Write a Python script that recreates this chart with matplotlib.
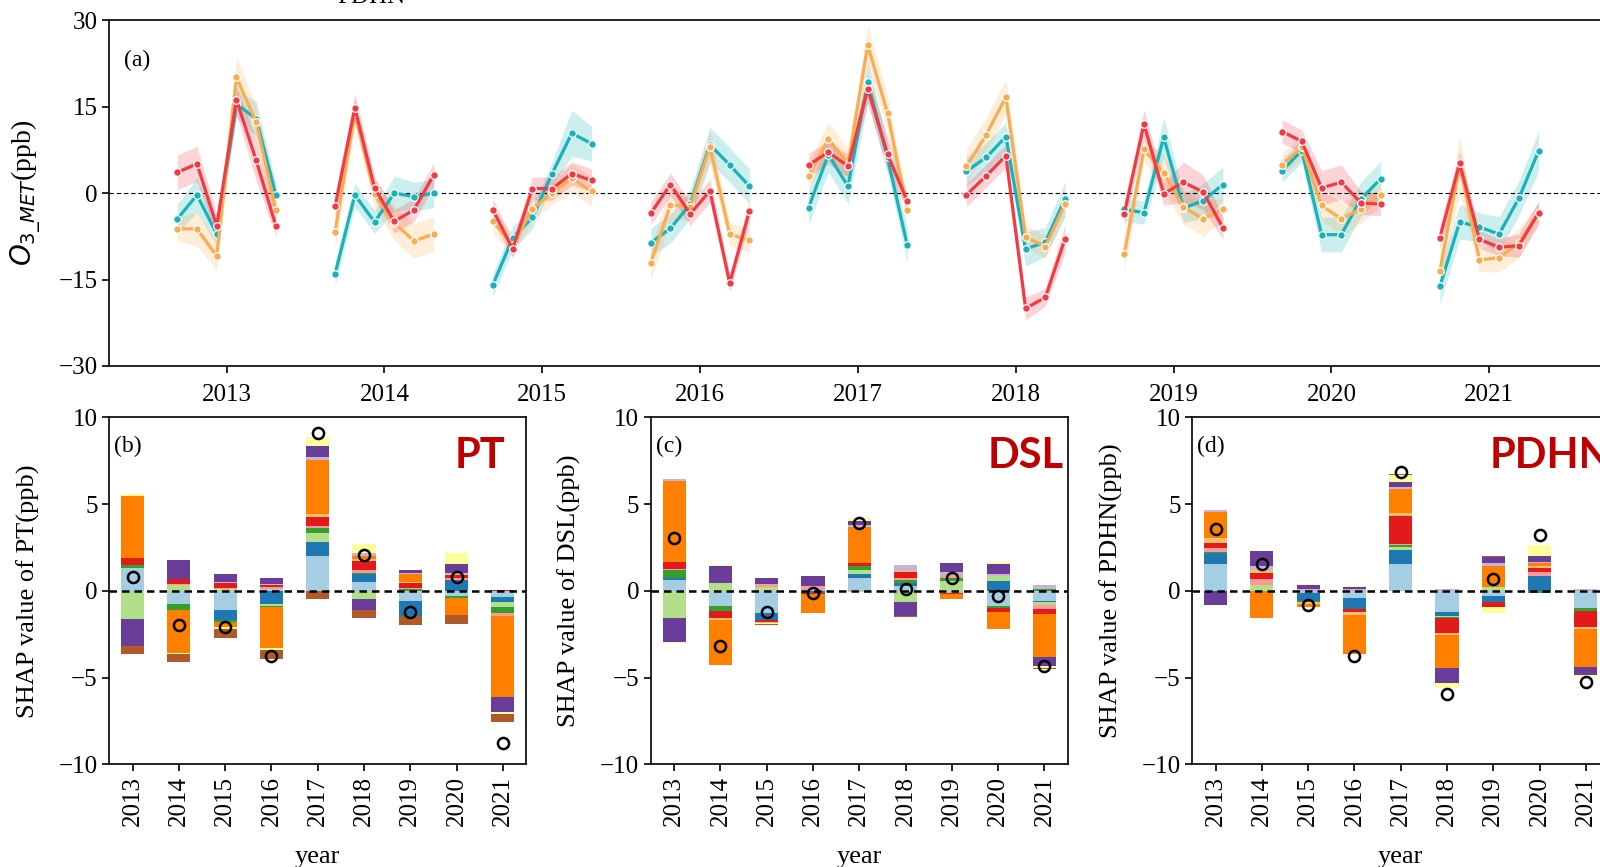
import matplotlib
matplotlib.use('Agg')
import matplotlib.pyplot as plt

plt.rcParams['font.family'] = ['Liberation Serif', 'DejaVu Sans']
plt.rcParams['mathtext.fontset'] = 'dejavusans'

years = ['2013', '2014', '2015', '2016', '2017', '2018', '2019', '2020', '2021']

# ---------------- panel (a): six monthly values per year ----------------
red_vals = [3.6, 5.1, -5.7, 16.2, 5.7, -5.7,
            -2.3, 14.8, 0.9, -4.9, -2.9, 3.2,
            -2.9, -9.7, 0.8, 0.8, 3.4, 2.2,
            -3.5, 1.5, -3.6, 0.4, -15.6, -3.1,
            4.9, 7.1, 4.7, 18.1, 6.8, -1.4,
            -0.3, 3.0, 6.5, -20.0, -18.1, -7.9,
            -3.6, 12.0, -0.1, 1.9, 0.2, -6.0,
            10.7, 9.0, 0.9, 1.9, -1.7, -1.9,
            -7.7, 5.2, -8.0, -9.4, -9.1, -3.4]
orange_vals = [-6.2, -6.2, -10.9, 20.1, 12.3, -3.0,
               -6.7, 14.0, -0.1, -5.2, -8.3, -7.1,
               -4.9, -9.0, -2.7, 0.0, 2.6, 0.3,
               -12.1, -2.0, -2.4, 8.0, -7.1, -8.2,
               3.0, 9.4, 5.1, 25.7, 13.9, -3.0,
               4.7, 10.1, 16.7, -7.6, -9.3, -1.9,
               -10.5, 7.6, 3.5, -2.4, -4.5, -2.8,
               4.9, 8.0, -2.1, -4.5, -2.7, -0.3,
               -13.5, 5.0, -11.6, -11.2, -8.7, -3.6]
teal_vals = [-4.5, -0.3, -7.1, 15.5, 12.9, -0.3,
             -14.0, -0.3, -5.0, 0.0, -0.6, 0.0,
             -15.9, -7.8, -4.2, 3.4, 10.4, 8.6,
             -8.6, -6.1, -1.9, 8.4, 4.9, 1.2,
             -2.5, 6.7, 1.2, 19.3, 6.2, -9.0,
             3.8, 6.2, 9.8, -9.7, -8.5, -1.0,
             -2.8, -3.4, 9.7, -2.6, -1.3, 1.5,
             3.9, 7.4, -7.2, -7.2, -1.0, 2.5,
             -16.2, -5.0, -5.9, -7.1, -0.9, 7.3]
# half-widths of the shaded uncertainty bands
red_err = [3, 3, 2, 2.5, 3.5, 2,
           2, 2.5, 2, 2, 2, 2,
           2, 1.5, 2, 2, 2, 2,
           2, 2, 2, 2, 1.5, 2,
           2, 2, 2, 2.5, 3, 1.5,
           2, 2, 2, 2, 1.5, 2.5,
           2, 2.5, 2, 3.5, 3, 2,
           2, 2, 3, 3, 2, 2,
           2, 2, 1.5, 1.5, 2, 2]
orange_err = [2, 3, 2.5, 3.5, 3, 3,
              3, 2.5, 2.5, 3, 3, 3,
              2, 2, 2, 2, 2.5, 2.5,
              3, 3, 2, 3, 2, 2,
              2, 3, 2.5, 3.5, 3, 2,
              3, 3, 3, 2, 2, 2,
              3, 2, 3, 3, 3, 2,
              2, 2, 2.5, 3, 2.5, 2,
              3, 5, 2, 2.5, 2.5, 2]
teal_err = [2.5, 3, 2, 2.5, 3, 2,
            2, 2, 2, 3, 2.5, 2.5,
            2, 2, 2, 2, 4, 3,
            2.5, 2.5, 2.5, 3, 3, 3,
            3, 3, 3, 3.5, 2.5, 3,
            2.5, 2.5, 2.5, 3, 2.5, 3,
            2, 2, 3.5, 2.5, 3, 3,
            2, 2, 3, 3, 3, 3,
            3, 3, 2.5, 3, 3, 3.5]

# ---------------- panels (b)-(d): stacked SHAP contributions ----------------
feature_colors = ['#a6cee3', '#1f78b4', '#b2df8a', '#33a02c', '#fb9a99', '#e31a1c',
                  '#fdbf6f', '#ff7f00', '#cab2d6', '#6a3d9a', '#ffff99', '#b15928']
#            lb     db     lg     g      pink   red    lo     orange lav    purple yellow brown
pt_shap = [
    [1.34, 0.00, -1.63, 0.15, 0.00, 0.42, 0.00, 3.54, 0.00, -1.56, 0.10, -0.48],
    [-0.77, 0.00, 0.35, -0.32, 0.05, 0.25, 0.05, -2.50, 0.00, 1.05, -0.07, -0.44],
    [-1.09, -0.59, 0.10, -0.13, 0.05, 0.28, 0.00, -0.29, 0.05, 0.48, -0.10, -0.50],
    [0.13, -0.77, -0.08, -0.10, 0.10, 0.08, 0.05, -2.35, 0.05, 0.30, -0.13, -0.52],
    [2.00, 0.80, 0.54, 0.30, 0.08, 0.52, 0.20, 3.12, 0.13, 0.63, 0.57, -0.48],
    [0.48, 0.46, -0.48, 0.11, 0.13, 0.54, 0.13, 0.15, 0.15, -0.61, 0.52, -0.50],
    [-0.57, -0.90, 0.00, 0.10, 0.05, 0.30, 0.05, 0.45, 0.05, 0.20, 0.00, -0.50],
    [-0.33, 0.63, 0.00, -0.10, 0.08, 0.20, 0.05, -0.96, 0.08, 0.48, 0.63, -0.50],
    [-0.38, -0.29, -0.29, -0.32, -0.15, 0.04, 0.00, -4.68, 0.00, -0.86, -0.13, -0.48],
]
dsl_shap = [
    [0.63, 0.13, -1.59, 0.42, 0.08, 0.42, 0.00, 4.63, 0.15, -1.38, -0.06, 0.00],
    [-0.90, 0.00, 0.44, -0.25, 0.00, -0.44, -0.07, -2.64, 0.00, 0.96, 0.07, 0.00],
    [-1.30, -0.38, 0.19, 0.00, 0.19, -0.10, -0.05, -0.05, 0.00, 0.33, -0.03, -0.05],
    [0.05, -0.10, 0.00, 0.00, 0.20, -0.08, 0.00, -1.10, 0.05, 0.56, 0.00, 0.00],
    [0.71, 0.27, 0.21, 0.25, 0.00, 0.15, -0.05, 2.10, 0.13, 0.20, 0.19, 0.00],
    [0.29, 0.15, -0.63, 0.17, 0.15, 0.33, 0.05, 0.00, 0.33, -0.84, 0.00, -0.05],
    [-0.10, 0.00, 0.57, 0.19, 0.15, -0.10, 0.00, -0.27, 0.19, 0.48, 0.03, 0.00],
    [-0.90, 0.57, 0.29, -0.08, 0.00, -0.27, 0.00, -0.96, 0.13, 0.54, 0.15, 0.00],
    [-0.57, -0.06, -0.19, 0.13, -0.23, -0.29, 0.00, -2.49, 0.19, -0.52, -0.11, -0.05],
]
pdhn_shap = [
    [1.53, 0.67, -0.03, 0.05, 0.19, 0.29, 0.33, 1.47, 0.15, -0.80, 0.00, 0.00],
    [0.00, 0.00, 0.33, 0.00, 0.34, 0.38, 0.15, -1.59, 0.23, 0.86, 0.00, 0.00],
    [-0.13, -0.44, 0.00, -0.10, 0.00, 0.00, -0.10, -0.19, 0.10, 0.25, 0.05, 0.00],
    [-0.44, -0.61, 0.00, 0.00, 0.00, -0.19, -0.13, -2.29, 0.10, 0.10, 0.05, 0.00],
    [1.57, 0.80, 0.15, 0.10, 0.10, 1.59, 0.19, 1.34, 0.13, 0.29, 0.42, 0.06],
    [-1.24, -0.19, -0.10, -0.06, 0.00, -0.86, -0.08, -1.93, 0.10, -0.86, -0.29, 0.00],
    [-0.29, -0.33, 0.19, 0.00, 0.00, -0.34, 0.05, 1.19, 0.19, 0.34, -0.33, 0.04],
    [0.00, 0.86, 0.00, -0.13, 0.25, 0.23, 0.10, 0.15, 0.06, 0.34, 0.63, 0.04],
    [-1.01, 0.00, 0.00, -0.13, 0.00, -0.96, -0.10, -2.20, 0.10, -0.44, -0.13, 0.00],
]
pt_circle = [0.80, -2.00, -2.10, -3.77, 9.12, 2.06, -1.24, 0.80, -8.76]
dsl_circle = [3.04, -3.17, -1.20, -0.13, 3.92, 0.13, 0.76, -0.29, -4.36]
pdhn_circle = [3.54, 1.53, -0.82, -3.77, 6.85, -5.97, 0.67, 3.21, -5.26]

# ---------------- figure ----------------
fig = plt.figure(figsize=(16, 8.67), dpi=100)

# panel (a)
ax = fig.add_axes([0.06825, 0.5779, 0.955, 0.3986])
series = [(teal_vals, teal_err, '#17b3b9'),
          (orange_vals, orange_err, '#f9ad52'),
          (red_vals, red_err, '#f23a45')]
for vals, err, col in series:
    for i in range(len(years)):
        xs = [8 * i + j for j in range(6)]
        ys = vals[6 * i:6 * i + 6]
        es = err[6 * i:6 * i + 6]
        ax.fill_between(xs, [y - e for y, e in zip(ys, es)], [y + e for y, e in zip(ys, es)],
                        color=col, alpha=0.22, lw=0)
        ax.plot(xs, ys, color=col, lw=2.3, marker='o', ms=5.5, mec='white', mew=0.9, zorder=3)
ax.axhline(0, color='black', ls='--', lw=0.8, dashes=(4, 2.5), zorder=1)
ax.set_xlim(-3.45, 74)
ax.set_ylim(-30, 30)
ax.set_yticks([-30, -15, 0, 15, 30])
ax.set_xticks([8 * i + 2.5 for i in range(len(years))])
ax.set_xticklabels(years)
ax.tick_params(labelsize=18, direction='out', length=5, width=1.2)
ax.tick_params(axis='x', pad=8)
for s in ax.spines.values():
    s.set_linewidth(1.2)
ax.set_ylabel(r'$O_{3\_MET}$(ppb)', fontsize=20)
ax.yaxis.set_label_coords(-0.043, 0.5)
ax.text(0.0095, 0.885, '(a)', transform=ax.transAxes, fontsize=17, va='center')

# top cropped text
fig.text(0.232, 0.9965, 'PDHN', fontsize=18, va='baseline', ha='center')

# panels (b)-(d)
panels = [(0.0684, pt_shap, pt_circle, 'PT', '(b)', 0.83),
          (0.4069, dsl_shap, dsl_circle, 'DSL', '(c)', 0.807),
          (0.7453, pdhn_shap, pdhn_circle, 'PDHN', '(d)', 0.714)]
for left, shap, circ, name, tag, namex in panels:
    bx = fig.add_axes([left, 0.1185, 0.2603, 0.4002])
    for i in range(len(years)):
        pos = 0.0
        neg = 0.0
        for k, v in enumerate(shap[i]):
            if v >= 0:
                bx.bar(i, v, bottom=pos, width=0.5, color=feature_colors[k], lw=0)
                pos += v
            else:
                bx.bar(i, v, bottom=neg, width=0.5, color=feature_colors[k], lw=0)
                neg += v
    bx.plot(range(len(years)), circ, 'o', mfc='none', mec='black', ms=8, mew=1.8, zorder=4)
    bx.axhline(0, color='black', ls='--', lw=1.8, dashes=(3, 2), zorder=3)
    bx.set_xlim(-0.5, 8.5)
    bx.set_ylim(-10, 10)
    bx.set_yticks([-10, -5, 0, 5, 10])
    bx.set_xticks(range(len(years)))
    bx.set_xticklabels(years, rotation=90)
    bx.tick_params(labelsize=18, direction='out', length=5, width=1.2)
    for s in bx.spines.values():
        s.set_linewidth(1.2)
    bx.set_ylabel(f'SHAP value of {name}(ppb)', fontsize=19)
    bx.yaxis.set_label_coords(-0.167, 0.5)
    bx.set_xlabel('year', fontsize=19)
    bx.xaxis.set_label_coords(0.5, -0.236)
    bx.text(0.012, 0.915, tag, transform=bx.transAxes, fontsize=17, va='center')
    bx.text(namex, 0.853, name, transform=bx.transAxes, fontsize=30, fontweight='bold',
            color='#c00000', family=['Lato', 'DejaVu Sans'], va='baseline', ha='left')

fig.savefig('out.png', dpi=100)
